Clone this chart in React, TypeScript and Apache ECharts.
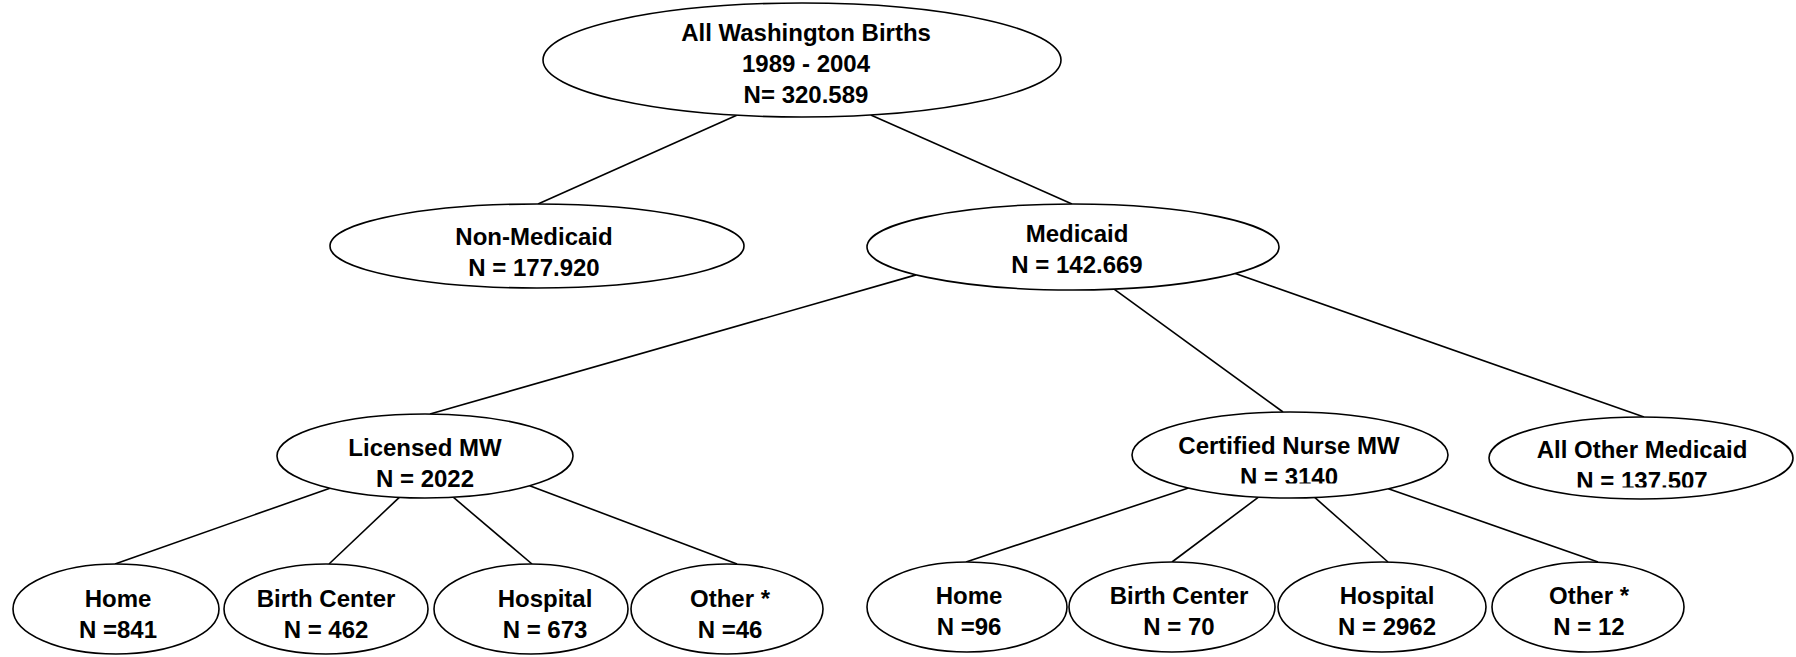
import React, { useEffect, useRef } from "react";
import * as echarts from "echarts";

// ---- Data ----
const nodeNames = [
  "All Washington Births",
  "Non-Medicaid",
  "Medicaid",
  "Licensed MW",
  "Certified Nurse MW",
  "All Other Medicaid",
  "Home",
  "Birth Center",
  "Hospital",
  "Other *",
  "Home",
  "Birth Center",
  "Hospital",
  "Other *",
];
const rootPeriod = "1989 - 2004";
const countLabels = [
  "N= 320.589",
  "N = 177.920",
  "N = 142.669",
  "N = 2022",
  "N = 3140",
  "N = 137.507",
  "N =841",
  "N = 462",
  "N = 673",
  "N =46",
  "N =96",
  "N = 70",
  "N = 2962",
  "N = 12",
];
const parents = [-1, 0, 0, 2, 2, 2, 3, 3, 3, 3, 4, 4, 4, 4];

// ---- Layout (positions / sizes, kept apart from data) ----
const nodeCx = [802, 537, 1073, 425, 1290, 1641, 116, 326, 531, 727, 967, 1172, 1382, 1588];
const nodeCy = [60, 246, 247, 456, 455, 458, 609, 609, 609, 609, 607, 607, 607, 607];
const nodeRx = [259, 207, 206, 148, 158, 152, 103, 102, 97, 96, 100, 103, 104, 96];
const nodeRy = [57, 42, 43, 42, 43, 41, 45, 45, 45, 45, 45, 45, 45, 45];
const textX = [806, 534, 1077, 425, 1289, 1642, 118, 326, 545, 730, 969, 1179, 1387, 1589];
const textY = [63, 252, 249, 463, 461, 465, 614, 614, 614, 614, 611, 611, 611, 611];
const anchorX = [802, 538, 1072, 430, 1283, 1644, 115, 329, 532, 737, 966, 1172, 1388, 1598];
const edgeStartAngle = [0, 104.6, 74.6, 139.6, 78.5, 38, 130, 100, 79, 45, 130, 101.5, 81, 51.5];
const clippedCount = [false, false, false, false, true, true, false, false, false, false, false, false, false, false];
const LINE_GAP = 31;
const FONT = {
  fontFamily: "'Liberation Sans', Arial, sans-serif",
  fontWeight: "bold" as const,
  fontSize: 24,
};

function buildGraphic() {
  const els: any[] = [];
  // edges
  for (let i = 0; i < nodeNames.length; i++) {
    const p = parents[i];
    if (p < 0) continue;
    const th = (edgeStartAngle[i] * Math.PI) / 180;
    const x1 = nodeCx[p] + nodeRx[p] * Math.cos(th);
    const y1 = nodeCy[p] + nodeRy[p] * Math.sin(th);
    const x2 = anchorX[i];
    const y2 = nodeCy[i] - nodeRy[i];
    els.push({
      type: "line",
      z: 1,
      shape: { x1, y1, x2, y2 },
      style: { stroke: "#000", lineWidth: 1.6 },
    });
  }
  // nodes
  for (let i = 0; i < nodeNames.length; i++) {
    els.push({
      type: "ellipse",
      z: 2,
      shape: { cx: nodeCx[i], cy: nodeCy[i], rx: nodeRx[i], ry: nodeRy[i] },
      style: { fill: "#fff", stroke: "#000", lineWidth: 1.6 },
    });
    const lines = i === 0 ? [nodeNames[i], rootPeriod, countLabels[i]] : [nodeNames[i], countLabels[i]];
    const n = lines.length;
    lines.forEach((t, k) => {
      const y = textY[i] + (k - (n - 1) / 2) * LINE_GAP;
      els.push({
        type: "text",
        z: 3,
        x: textX[i],
        y,
        style: {
          text: t,
          fill: "#000",
          align: "center",
          verticalAlign: "middle",
          ...FONT,
        },
      });
    });
    if (clippedCount[i]) {
      const yLine2 = textY[i] + LINE_GAP / 2;
      els.push({
        type: "rect",
        z: 4,
        shape: { x: textX[i] - 68, y: yLine2 + 7, width: 136, height: 5 },
        style: { fill: "#fff" },
      });
    }
  }
  return els;
}

export default function App() {
  const ref = useRef<HTMLDivElement>(null);
  useEffect(() => {
    document.body.style.margin = "0";
    const chart = echarts.init(ref.current!, undefined, { renderer: "svg" });
    chart.setOption({
      animation: false,
      backgroundColor: "#fff",
      graphic: { elements: buildGraphic() },
    });
    return () => chart.dispose();
  }, []);
  return <div ref={ref} style={{ width: 1796, height: 657 }} />;
}
